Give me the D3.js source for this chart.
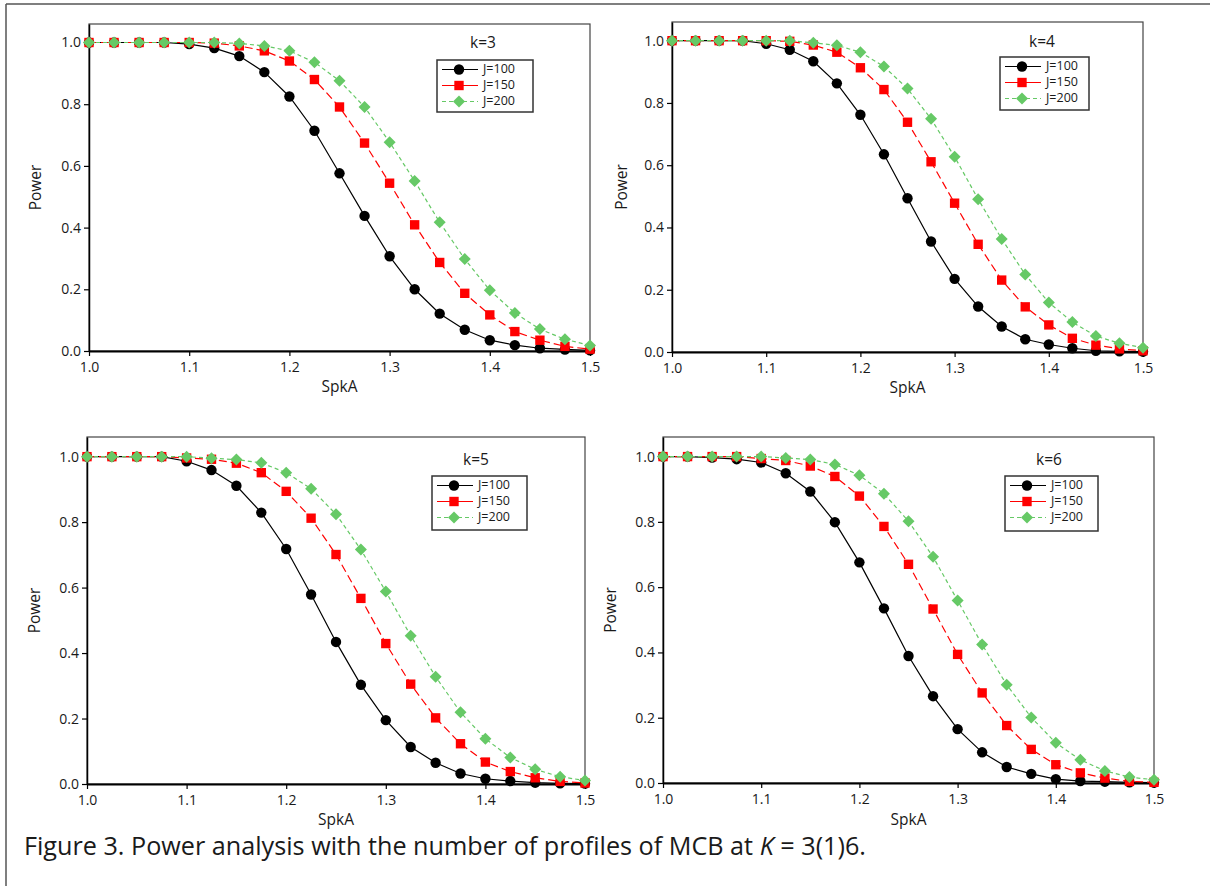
<!DOCTYPE html>
<html>
<head>
<meta charset="utf-8">
<script src="https://cdn.jsdelivr.net/npm/d3@7"></script>
<style>
  body { margin: 0; background: #fff; }
  svg { display: block; }
  text { font-family: "Open Sans", "Noto Sans", sans-serif; fill: #1a1a1a; }
</style>
</head>
<body>
<div id="chart"></div>
<script>
// valores
const spkA = [1.000, 1.025, 1.050, 1.075, 1.100, 1.125, 1.150, 1.175, 1.200, 1.225, 1.250,
              1.275, 1.300, 1.325, 1.350, 1.375, 1.400, 1.425, 1.450, 1.475, 1.500];
const seriesNames = ["J=100", "J=150", "J=200"];
const kLabels = ["k=3", "k=4", "k=5", "k=6"];
const xTicks = [1.0, 1.1, 1.2, 1.3, 1.4, 1.5];
const yTicks = [0.0, 0.2, 0.4, 0.6, 0.8, 1.0];

const k3J100 = [1, 1, 1, 1, 0.995, 0.982, 0.956, 0.904, 0.825, 0.714, 0.576, 0.438, 0.307, 0.200, 0.121, 0.069, 0.035, 0.019, 0.009, 0.005, 0.002];
const k3J150 = [1, 1, 1, 1, 1, 0.998, 0.989, 0.973, 0.940, 0.880, 0.791, 0.674, 0.544, 0.409, 0.287, 0.187, 0.117, 0.063, 0.035, 0.015, 0.006];
const k3J200 = [1, 1, 1, 1, 1, 1, 0.997, 0.989, 0.973, 0.936, 0.876, 0.791, 0.677, 0.551, 0.417, 0.298, 0.197, 0.123, 0.071, 0.038, 0.018];

const k4J100 = [1, 1, 1, 1, 0.990, 0.971, 0.934, 0.863, 0.762, 0.635, 0.494, 0.355, 0.235, 0.146, 0.082, 0.041, 0.024, 0.012, 0.004, 0.002, 0.001];
const k4J150 = [1, 1, 1, 1, 1, 0.998, 0.986, 0.963, 0.913, 0.843, 0.738, 0.611, 0.478, 0.346, 0.231, 0.145, 0.087, 0.044, 0.022, 0.010, 0.004];
const k4J200 = [1, 1, 1, 1, 1, 1, 0.993, 0.985, 0.963, 0.917, 0.846, 0.749, 0.627, 0.491, 0.363, 0.249, 0.159, 0.096, 0.051, 0.028, 0.014];

const k5J100 = [1, 1, 1, 1, 0.986, 0.959, 0.911, 0.829, 0.718, 0.579, 0.434, 0.303, 0.195, 0.113, 0.065, 0.032, 0.016, 0.009, 0.004, 0.002, 0.001];
const k5J150 = [1, 1, 1, 1, 0.996, 0.992, 0.980, 0.951, 0.894, 0.812, 0.701, 0.567, 0.429, 0.305, 0.202, 0.123, 0.067, 0.038, 0.019, 0.008, 0.003];
const k5J200 = [1, 1, 1, 1, 1, 0.995, 0.991, 0.981, 0.951, 0.902, 0.824, 0.716, 0.588, 0.453, 0.328, 0.219, 0.138, 0.081, 0.045, 0.022, 0.011];

const k6J100 = [1, 1, 0.997, 0.992, 0.982, 0.949, 0.893, 0.799, 0.676, 0.535, 0.389, 0.266, 0.165, 0.094, 0.049, 0.028, 0.012, 0.006, 0.004, 0.002, 0.001];
const k6J150 = [1, 1, 1, 1, 0.994, 0.988, 0.971, 0.939, 0.879, 0.786, 0.670, 0.533, 0.394, 0.276, 0.176, 0.103, 0.056, 0.031, 0.015, 0.005, 0.002];
const k6J200 = [1, 1, 1, 1, 1, 0.996, 0.991, 0.976, 0.943, 0.886, 0.802, 0.693, 0.559, 0.424, 0.301, 0.201, 0.123, 0.071, 0.037, 0.018, 0.010];

const panelData = [
  [k3J100, k3J150, k3J200],
  [k4J100, k4J150, k4J200],
  [k5J100, k5J150, k5J200],
  [k6J100, k6J150, k6J200]
];

// posição de cada painel (px)
const panels = [
  { left: 89,  right: 590,  top: 24,  bottom: 351, lgX: 437,  lgY: 60,  lgW: 96, lgH: 52, titleX: 483,  titleY: 44,  yLabX: 37,  xLabY: 388 },
  { left: 672, right: 1143, top: 22,  bottom: 352, lgX: 1000, lgY: 57,  lgW: 89, lgH: 53, titleX: 1042, titleY: 43,  yLabX: 623, xLabY: 389 },
  { left: 87,  right: 585,  top: 437, bottom: 784, lgX: 432,  lgY: 476, lgW: 95, lgH: 54, titleX: 476,  titleY: 461, yLabX: 36,  xLabY: 821 },
  { left: 663, right: 1154, top: 437, bottom: 783, lgX: 1005, lgY: 476, lgW: 93, lgH: 55, titleX: 1049, titleY: 461, yLabX: 612, xLabY: 821 }
];

// diamante = quadrado rodado 45°
const styles = [
  { color: "#000000", dash: null,  symbol: d3.symbolCircle, size: 85, rot: 0 },
  { color: "#ff0000", dash: "8,4", symbol: d3.symbolSquare, size: 88, rot: 0 },
  { color: "#66c966", dash: "4,3", symbol: d3.symbolSquare, size: 72, rot: 45 }
];

const W = 1210, H = 886;
const svg = d3.select("#chart").append("svg").attr("width", W).attr("height", H);

// moldura externa (só topo e esquerda aparecem)
svg.append("line").attr("x1", 6).attr("y1", 4).attr("x2", W).attr("y2", 4)
  .attr("stroke", "#555").attr("stroke-width", 1.5);
svg.append("line").attr("x1", 6).attr("y1", 4).attr("x2", 6).attr("y2", H)
  .attr("stroke", "#555").attr("stroke-width", 1.5);

panels.forEach((p, i) => {
  const g = svg.append("g");

  const x = d3.scaleLinear().domain([1.0, 1.5]).range([p.left, p.right]);
  const y = d3.scaleLinear().domain([0, 1.06]).range([p.bottom, p.top]);

  // caixa
  g.append("rect")
    .attr("x", p.left).attr("y", p.top)
    .attr("width", p.right - p.left).attr("height", p.bottom - p.top)
    .attr("fill", "none").attr("stroke", "#444").attr("stroke-width", 1.2);

  // eixo X
  const ax = g.append("g")
    .attr("transform", `translate(0,${p.bottom})`)
    .call(d3.axisBottom(x).tickValues(xTicks).tickFormat(d3.format(".1f")).tickSizeInner(5).tickSizeOuter(0));
  ax.select(".domain").attr("stroke", "#000").attr("stroke-width", 2);
  ax.selectAll(".tick line").attr("stroke", "#000").attr("stroke-width", 1.2);
  ax.selectAll(".tick text").attr("dy", "0.9em").style("font-size", "14px")
    .style("font-family", "'Open Sans', sans-serif").attr("fill", "#1a1a1a");

  // eixo Y
  const ay = g.append("g")
    .attr("transform", `translate(${p.left},0)`)
    .call(d3.axisLeft(y).tickValues(yTicks).tickFormat(d3.format(".1f")).tickSizeInner(5).tickSizeOuter(0));
  ay.select(".domain").attr("stroke", "#000").attr("stroke-width", 1.5);
  ay.selectAll(".tick line").attr("stroke", "#000").attr("stroke-width", 1.2);
  ay.selectAll(".tick text").attr("x", -8).style("font-size", "14px")
    .style("font-family", "'Open Sans', sans-serif").attr("fill", "#1a1a1a");

  // títulos dos eixos
  g.append("text")
    .attr("x", (p.left + p.right) / 2).attr("y", p.xLabY)
    .attr("text-anchor", "middle").attr("dominant-baseline", "middle")
    .style("font-size", "15.5px").text("SpkA");
  g.append("text")
    .attr("transform", `translate(${p.yLabX},${(p.top + p.bottom) / 2}) rotate(-90)`)
    .attr("text-anchor", "middle").attr("dominant-baseline", "middle")
    .style("font-size", "15.5px").text("Power");

  // séries
  panelData[i].forEach((vals, s) => {
    const st = styles[s];
    const pts = spkA.map((v, j) => [v, vals[j]]);
    g.append("path")
      .datum(pts)
      .attr("fill", "none")
      .attr("stroke", st.color)
      .attr("stroke-width", 1.2)
      .attr("stroke-dasharray", st.dash)
      .attr("d", d3.line().x(d => x(d[0])).y(d => y(d[1])));
    g.selectAll(null)
      .data(pts)
      .enter()
      .append("path")
      .attr("transform", d => `translate(${x(d[0])},${y(d[1])}) rotate(${st.rot})`)
      .attr("d", d3.symbol().type(st.symbol).size(st.size))
      .attr("fill", st.color);
  });

  // legenda
  g.append("text")
    .attr("x", p.titleX).attr("y", p.titleY)
    .attr("text-anchor", "middle").attr("dominant-baseline", "middle")
    .style("font-size", "15.5px").text(kLabels[i]);

  const lg = g.append("g").attr("transform", `translate(${p.lgX},${p.lgY})`);
  lg.append("rect")
    .attr("width", p.lgW).attr("height", p.lgH)
    .attr("fill", "#fff").attr("stroke", "#333").attr("stroke-width", 1.5);
  seriesNames.forEach((name, s) => {
    const st = styles[s];
    const ry = 9.5 + s * 16;
    lg.append("line")
      .attr("x1", 5).attr("x2", 41).attr("y1", ry).attr("y2", ry)
      .attr("stroke", st.color).attr("stroke-width", 1.2)
      .attr("stroke-dasharray", s === 2 ? "4,3" : null);
    lg.append("path")
      .attr("transform", `translate(22,${ry}) rotate(${st.rot})`)
      .attr("d", d3.symbol().type(st.symbol).size(st.size))
      .attr("fill", st.color);
    lg.append("text")
      .attr("x", 46).attr("y", ry)
      .attr("dominant-baseline", "middle")
      .style("font-size", "12.5px").text(name);
  });
});

// legenda da figura
const cap = svg.append("text")
  .attr("x", 24).attr("y", 855)
  .style("font-size", "25px")
  .style("font-family", "'Open Sans', sans-serif");
cap.append("tspan").text("Figure 3. Power analysis with the number of profiles of MCB at ");
cap.append("tspan").style("font-style", "italic").text("K");
cap.append("tspan").text(" = 3(1)6.");
// ajustar ao comprimento observado (~842 px)
const len = cap.node().getComputedTextLength();
cap.style("font-size", (25 * 842 / len).toFixed(2) + "px");
</script>
</body>
</html>
